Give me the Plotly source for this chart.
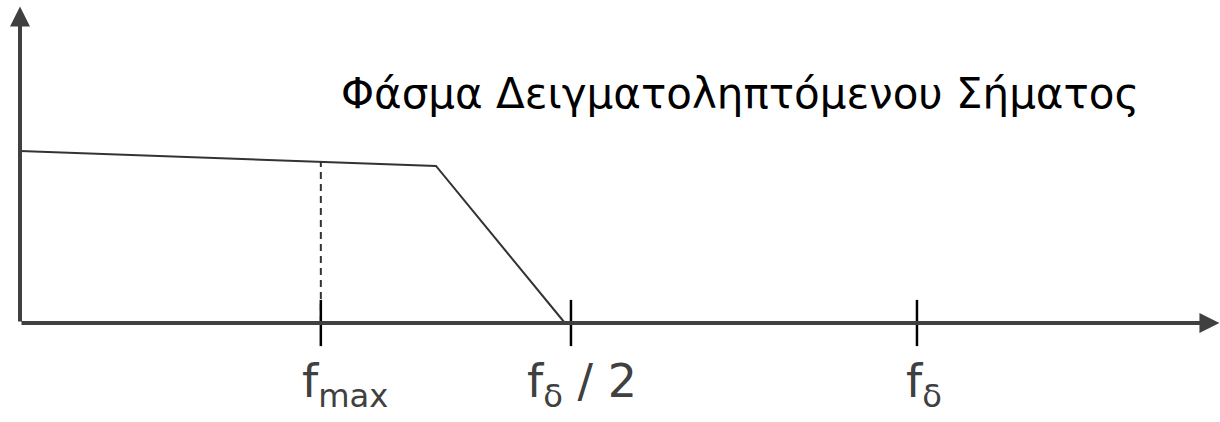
import plotly.graph_objects as go

# Spectrum outline of the sampled signal (schematic units)
freq = [0.0, 0.755, 0.989]
amplitude = [1.0, 0.913, 0.0]

# Frequency markers on the axis
tick_x = [0.546, 1.0, 1.628]
tick_labels = ["f<sub>max</sub>", "f<sub>δ</sub> / 2", "f<sub>δ</sub>"]
label_x = [0.508, 0.916, 1.604]

# Dashed marker at f_max, up to the spectrum line
fmax_x = [0.546, 0.546]
fmax_y = [0.0, 0.94]

title_text = "Φάσμα Δειγματοληπτόμενου Σήματος"

fig = go.Figure()

fig.add_trace(go.Scatter(
    x=freq, y=amplitude, mode="lines",
    line=dict(color="#333333", width=2),
    hoverinfo="skip",
))

fig.add_trace(go.Scatter(
    x=fmax_x, y=fmax_y, mode="lines",
    line=dict(color="#333333", width=2, dash="7px,5px"),
    hoverinfo="skip",
))

# tick marks drawn as vertical line markers on the zero line
fig.add_trace(go.Scatter(
    x=tick_x, y=[0] * len(tick_x), mode="markers",
    marker=dict(symbol="line-ns", size=33, line=dict(color="black", width=2.5)),
    hoverinfo="skip",
))

# axes with arrows
fig.add_annotation(x=2.177, y=0, ax=0, ay=0, xref="x", yref="y", axref="x", ayref="y",
                   showarrow=True, arrowhead=2, arrowsize=1, arrowwidth=4,
                   arrowcolor="#404040", text="")
fig.add_annotation(x=0, y=1.84, ax=0, ay=0, xref="x", yref="y", axref="x", ayref="y",
                   showarrow=True, arrowhead=2, arrowsize=1, arrowwidth=4,
                   arrowcolor="#404040", text="")

for lx, lab in zip(label_x, tick_labels):
    fig.add_annotation(x=lx, y=-0.36, xref="x", yref="y", text=lab, showarrow=False,
                       xanchor="left", yanchor="middle",
                       font=dict(family="DejaVu Sans", size=46, color="#404040"))

fig.add_annotation(x=1.307, y=1.336, xref="x", yref="y", text=title_text,
                   showarrow=False, xanchor="center", yanchor="middle",
                   font=dict(family="DejaVu Sans", size=42, color="black"))

fig.update_layout(
    width=1220, height=422,
    margin=dict(l=0, r=0, t=0, b=0),
    paper_bgcolor="white", plot_bgcolor="white",
    showlegend=False,
    xaxis=dict(range=[-0.0363, 2.178], visible=False, fixedrange=True),
    yaxis=dict(range=[-0.5756, 1.878], visible=False, fixedrange=True),
)

# page body margin would shift the figure by 8px
fig.write_html("out.html", config={"displayModeBar": False},
               post_script="document.body.style.margin='0';")
